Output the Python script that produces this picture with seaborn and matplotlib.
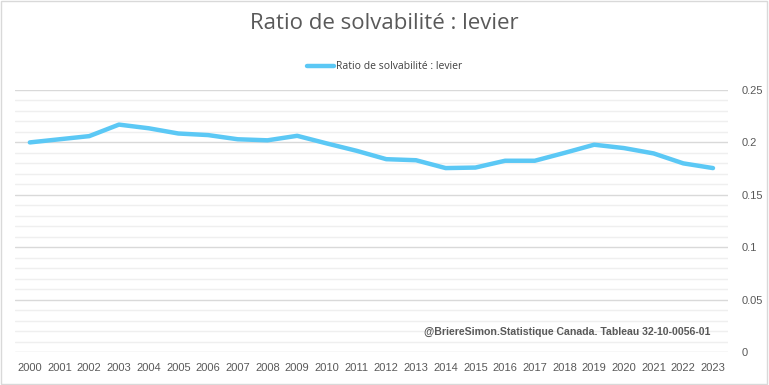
import numpy as np
import pandas as pd
import seaborn as sns
import matplotlib.pyplot as plt
from matplotlib.ticker import MultipleLocator, FuncFormatter
from matplotlib.patches import Rectangle

years = [str(y) for y in range(2000, 2024)]
levier = [0.200, 0.203, 0.206, 0.217, 0.2135, 0.2085, 0.207, 0.203, 0.202, 0.2063,
          0.199, 0.192, 0.184, 0.183, 0.1755, 0.176, 0.1825, 0.1825, 0.190, 0.1978,
          0.1946, 0.1895, 0.180, 0.1755]
serie = "Ratio de solvabilité : levier"

df = pd.DataFrame({"annee": years, "valeur": levier})

sns.set_style("white")
plt.rcParams['font.family'] = ['Liberation Sans', 'DejaVu Sans']

fig = plt.figure(figsize=(7.69, 3.85), dpi=100)
ax = fig.add_axes([0.0195, 0.0857, 0.927, 0.6805])

sns.lineplot(data=df, x="annee", y="valeur", ax=ax, color="#5BC8F5",
             linewidth=3.2, label=serie, sort=False)

ax.set_xlim(-0.5, len(years) - 0.5)
ax.set_ylim(0, 0.25)
ax.yaxis.set_major_locator(MultipleLocator(0.05))
ax.yaxis.set_minor_locator(MultipleLocator(0.01))
ax.yaxis.set_major_formatter(FuncFormatter(lambda v, p: f"{v:g}"))
ax.grid(which="major", axis="y", color="#d9d9d9", linewidth=1)
ax.grid(which="minor", axis="y", color="#efefef", linewidth=1)
ax.set_axisbelow(True)
ax.yaxis.tick_right()
ax.tick_params(axis="y", which="both", length=0, pad=10, labelsize=8, labelcolor="#595959")
ax.tick_params(axis="x", length=0, pad=8, labelsize=8, labelcolor="#595959")
for s in ax.spines.values():
    s.set_visible(False)
ax.set_xlabel("")
ax.set_ylabel("")

ax.get_legend().remove()
fig.legend(loc="upper center", bbox_to_anchor=(0.5, 0.865), frameon=False,
           handlelength=2.6, handletextpad=0.2,
           prop={"family": "Open Sans", "size": 7.5}, labelcolor="#404040")

fig.suptitle("Ratio de solvabilité : levier", y=0.965, fontsize=16,
             color="#595959", family="Open Sans")

ax.text(0.975, 0.075, "@BriereSimon.Statistique Canada. Tableau 32-10-0056-01",
        transform=ax.transAxes, ha="right", va="center", fontsize=7.6,
        fontweight="bold", color="#595959")

fig.patches.append(Rectangle((0.001, 0.002), 0.997, 0.995, transform=fig.transFigure,
                             fill=False, edgecolor="#d9d9d9", linewidth=1))

fig.savefig("out.png", dpi=100)
